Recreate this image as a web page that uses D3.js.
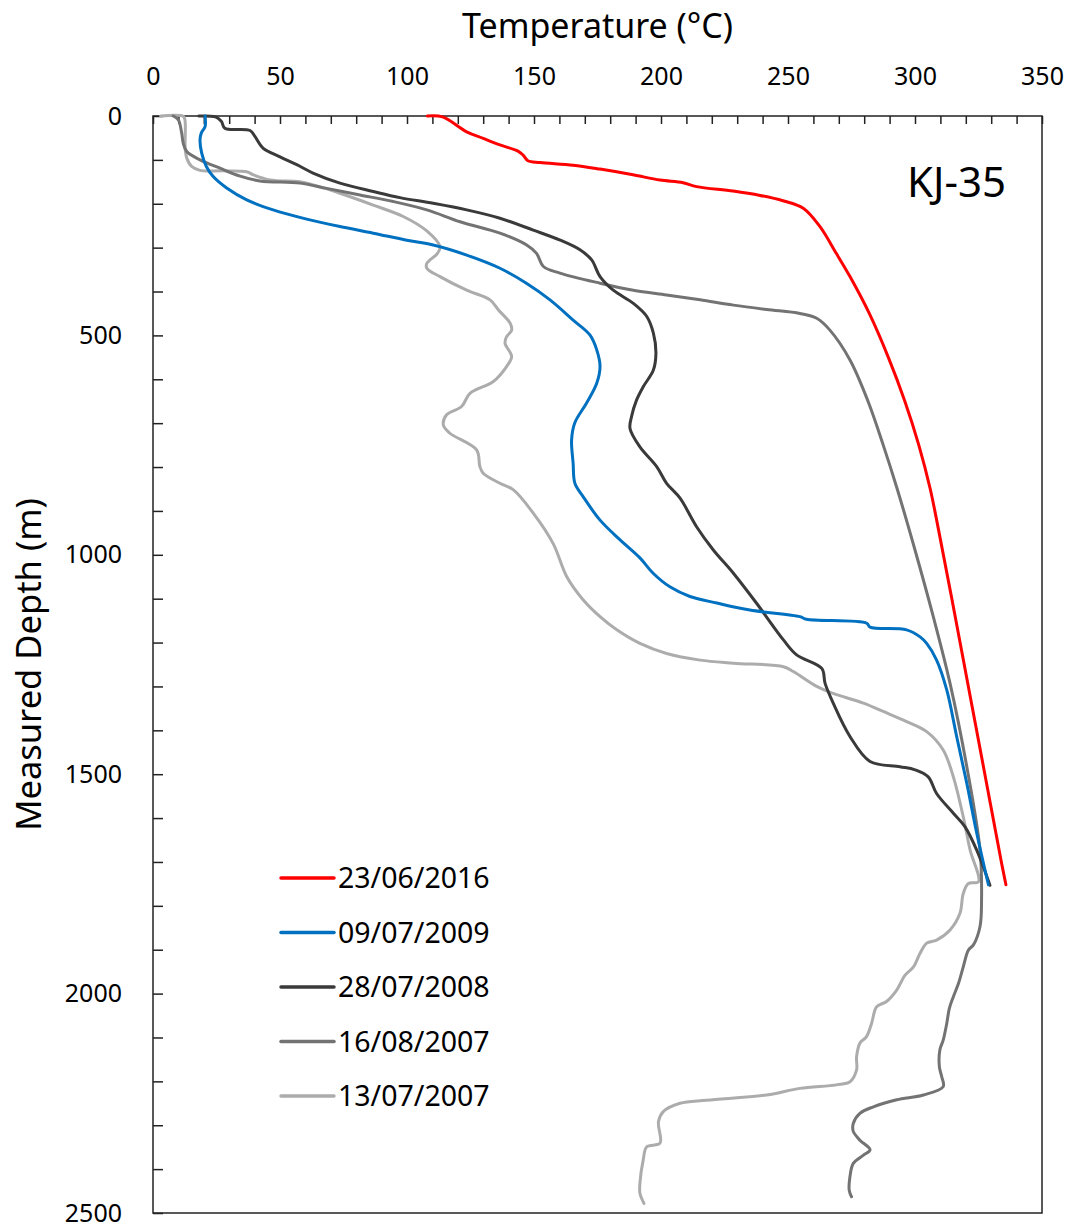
<!DOCTYPE html>
<html>
<head>
<meta charset="utf-8">
<script src="https://cdn.jsdelivr.net/npm/d3@7"></script>
<style>
  body { margin: 0; background: #fff; }
  text { font-family: "Noto Sans", "Open Sans", sans-serif; fill: #000; }
</style>
</head>
<body>
<script>
// temperature (°C), measured depth (m)
var seriesNames = ["23/06/2016", "09/07/2009", "28/07/2008", "16/08/2007", "13/07/2007"];
var seriesColors = ["#ff0000", "#0070c0", "#3a3a3a", "#737373", "#acacac"];

var red2016 = [
  [108, 0], [114, 2], [123.5, 36], [130, 51], [136.6, 66], [143.7, 80], [145.7, 89], [147.6, 102],
  [152.4, 106], [165.4, 112], [176, 121], [189, 134], [199.6, 146], [208.7, 152], [214, 161],
  [228.4, 171], [239, 181], [248, 193], [256, 210], [262.6, 252], [269, 313], [274.4, 366],
  [282, 450], [289.5, 550], [296, 650], [301.5, 750], [306, 850], [309.5, 950], [314.5, 1100],
  [321, 1300], [327.5, 1500], [334, 1700], [335.8, 1752]
];
var blue2009 = [
  [20.5, 0], [20.5, 24], [19, 39], [18.5, 55], [19.2, 85], [21, 115], [23.7, 138], [29, 164],
  [36.9, 191], [47.3, 214], [60.5, 235], [73.6, 252], [86.7, 267], [99.9, 283], [110.3, 294],
  [123.5, 317], [136.6, 347], [147, 381], [156.3, 419], [165.4, 465], [172, 499], [174.7, 533],
  [176, 571], [174.7, 609], [170.7, 654], [166, 700], [164.8, 738], [165.4, 791], [166.1, 837],
  [169.4, 868], [176, 921], [183.9, 966], [191.7, 1007], [196.9, 1042], [203.5, 1073],
  [211.4, 1095], [222, 1110], [235, 1126], [254.7, 1141], [257.3, 1147], [281, 1156],
  [282.3, 1165], [296.7, 1171], [302, 1187], [304.6, 1202], [308.5, 1240], [312.5, 1308],
  [316.4, 1414], [320.4, 1521], [324.3, 1634], [328.9, 1752]
];
var dark2008 = [
  [18, 0], [24, 1], [25.6, 5], [27, 13], [28.3, 28], [38.2, 33], [40.2, 47], [43.3, 73], [50, 93],
  [56.6, 111], [63, 130], [73.6, 153], [86.7, 172], [97.2, 186], [110.3, 199], [123.5, 214],
  [136.6, 233], [149.7, 260], [160.3, 283], [168.1, 305], [172.7, 328], [176, 366], [181.2, 397],
  [189.1, 427], [194.4, 457], [197, 495], [198, 541], [197, 579], [193, 617], [190.4, 647],
  [188.4, 685], [187.8, 712], [191.7, 754], [198.3, 799], [202.2, 837], [207.5, 871], [214, 936],
  [220.6, 989], [228.5, 1042], [237.7, 1111], [248.2, 1194], [253.4, 1228], [263.3, 1259],
  [264.6, 1293], [267.8, 1338], [274.4, 1414], [282.3, 1471], [294.1, 1483], [300, 1490],
  [305.2, 1506], [308.5, 1544], [315.1, 1589], [319.7, 1620], [324.3, 1673], [329.5, 1753]
];
var mid2007 = [
  [8, 0], [10, 9], [11.3, 39], [11.9, 62], [13.3, 81], [18.5, 100], [26.4, 119], [34.3, 137],
  [42.1, 148], [57.9, 153], [68.4, 165], [81.5, 180], [94.6, 195], [107.8, 214], [120.9, 241],
  [136.6, 267], [147.1, 294], [151, 313], [153.7, 343], [160.2, 358], [176, 381], [189.1, 397],
  [202.2, 408], [215.4, 419], [228.5, 431], [241.6, 441], [254.7, 450], [261.3, 461],
  [266.5, 488], [274.4, 556], [281.5, 650], [287.5, 750], [293, 850], [300, 989], [307.2, 1141],
  [313.8, 1293], [320.4, 1483], [325.6, 1673], [326.2, 1787], [325.6, 1847], [323, 1889],
  [321, 1901], [319, 1939], [317.1, 1977], [315.1, 2007], [313.5, 2034], [312.5, 2068],
  [311.1, 2106], [309.8, 2128], [309.6, 2167], [310.5, 2189], [311.1, 2212], [303.3, 2231],
  [292.8, 2242], [283.6, 2258], [278.3, 2273], [275.7, 2296], [275.7, 2314], [278.3, 2334],
  [282.3, 2356], [279.7, 2368], [275.7, 2387], [274.4, 2417], [274.1, 2448], [275, 2463]
];
var light2007 = [
  [3, 0], [12, 1], [12.6, 10], [12.7, 77], [13.3, 96], [15.2, 115], [18.5, 124], [27.7, 125],
  [36.9, 127], [39.5, 134], [46.1, 146], [57.9, 150], [63.1, 157], [73.6, 176], [86.7, 203],
  [98.5, 229], [107.8, 262], [113, 298], [112, 313], [107.8, 336], [107.8, 347], [113, 366],
  [123.5, 397], [132.7, 419], [136, 442], [140.6, 472], [141.2, 488], [139.2, 503], [138.6, 518],
  [141.2, 548], [139.2, 571], [134, 605], [124.8, 632], [121.5, 662], [115.6, 681], [114.3, 704],
  [116.9, 723], [127.4, 761], [128.7, 799], [130, 814], [136.6, 837], [141.9, 852], [149.7, 905],
  [157.6, 975], [162.9, 1050], [169.4, 1103], [176, 1141], [182.6, 1171], [191.7, 1202],
  [202.2, 1225], [215.4, 1240], [228.5, 1247], [248.2, 1255], [252.1, 1266], [261.3, 1300],
  [267.8, 1316], [279.7, 1338], [287.5, 1357], [296.7, 1380], [304.6, 1403], [311.1, 1445],
  [315.1, 1506], [319, 1597], [321.7, 1673], [325, 1745], [321, 1749], [319, 1772], [317.7, 1817],
  [313.8, 1855], [308.5, 1878], [304.6, 1885], [302, 1908], [299.4, 1939], [296.1, 1958],
  [292.8, 1992], [288.8, 2018], [284.9, 2030], [282.9, 2068], [280.9, 2098], [278.3, 2113],
  [277, 2144], [277, 2174], [274.4, 2201], [269.1, 2208], [254.7, 2216], [241.6, 2231],
  [218, 2243], [207.5, 2250], [200.9, 2269], [199, 2292], [199.6, 2341], [194.4, 2349],
  [193, 2379], [191.7, 2432], [191.7, 2455], [193.3, 2478]
];
var allSeries = [red2016, blue2009, dark2008, mid2007, light2007];

var tempLabels = [0, 50, 100, 150, 200, 250, 300, 350];
var depthLabels = [0, 500, 1000, 1500, 2000, 2500];

var w = 1073, h = 1231;
var plotLeft = 153, plotRight = 1042, plotTop = 116, plotBottom = 1213;

var svg = d3.select('body')
  .append('svg')
  .attr('width', w)
  .attr('height', h);

// SCALES
var xScale = d3.scaleLinear()
  .domain([0, 350])
  .range([plotLeft, plotRight]);

var yScale = d3.scaleLinear()
  .domain([0, 2500])
  .range([plotTop, plotBottom]);

// frame
svg.append('rect')
  .attr('x', plotLeft)
  .attr('y', plotTop)
  .attr('width', plotRight - plotLeft)
  .attr('height', plotBottom - plotTop)
  .attr('fill', 'none')
  .attr('stroke', '#222')
  .attr('stroke-width', 1.5);

// AXES: minor ticks inside, labels outside
svg.append('g')
  .attr('transform', `translate(0,${plotTop})`)
  .call(d3.axisTop(xScale).tickValues(d3.range(0, 351, 10)).tickSize(-8).tickFormat(''));

svg.append('g')
  .attr('transform', `translate(0,${plotTop})`)
  .call(d3.axisTop(xScale).tickValues(tempLabels).tickFormat(d3.format('d')).tickSize(0).tickPadding(31));

svg.append('g')
  .attr('transform', `translate(${plotLeft},0)`)
  .call(d3.axisLeft(yScale).tickValues(d3.range(0, 2501, 100)).tickSize(-10).tickFormat(''));

svg.append('g')
  .attr('transform', `translate(${plotLeft},0)`)
  .call(d3.axisLeft(yScale).tickValues(depthLabels).tickFormat(d3.format('d')).tickSize(0).tickPadding(31));

svg.selectAll('.domain').remove();
svg.selectAll('.tick line').attr('stroke', '#222').attr('stroke-width', 1.5);
svg.selectAll('.tick text')
  .style('font-family', '"Noto Sans", sans-serif')
  .style('font-size', '25px')
  .attr('fill', '#000');

// titles
svg.append('text')
  .attr('x', (plotLeft + plotRight) / 2)
  .attr('y', 38)
  .style('text-anchor', 'middle')
  .style('font-size', '34px')
  .text('Temperature (°C)');

svg.append('text')
  .style('text-anchor', 'middle')
  .style('font-size', '34.5px')
  .attr('transform', 'translate(41,' + (plotTop + plotBottom) / 2 + ')rotate(-90)')
  .text('Measured Depth (m)');

svg.append('text')
  .attr('x', 1006)
  .attr('y', 197)
  .style('text-anchor', 'end')
  .style('font-size', '42px')
  .text('KJ-35');

// LINES (drawn oldest first so the newer ones sit on top)
var line = d3.line()
  .x(d => xScale(d[0]))
  .y(d => yScale(d[1]))
  .curve(d3.curveCatmullRom.alpha(0.5));

for (var i = allSeries.length - 1; i >= 0; i--) {
  svg.append('path')
    .datum(allSeries[i])
    .attr('d', line)
    .attr('fill', 'none')
    .attr('stroke', seriesColors[i])
    .attr('stroke-width', 3)
    .attr('stroke-linejoin', 'round')
    .attr('stroke-linecap', 'round');
}

// LEGEND
var legend = svg.append('g');
seriesNames.forEach((name, i) => {
  var yy = 878 + i * 54.5;
  legend.append('line')
    .attr('x1', 281).attr('x2', 334)
    .attr('y1', yy).attr('y2', yy)
    .attr('stroke', seriesColors[i])
    .attr('stroke-width', 3.5)
    .attr('stroke-linecap', 'round');
  legend.append('text')
    .attr('x', 338)
    .attr('y', yy + 10)
    .style('font-size', '28.5px')
    .text(name);
});
</script>
</body>
</html>
